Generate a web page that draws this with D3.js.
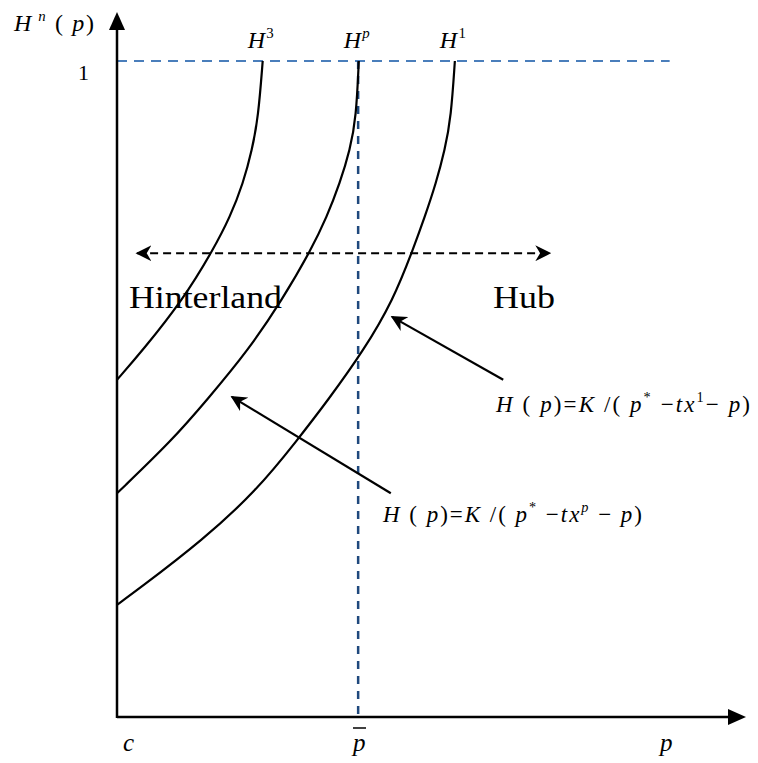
<!DOCTYPE html>
<html>
<head>
<meta charset="utf-8">
<script src="https://cdn.jsdelivr.net/npm/d3@7"></script>
<style>
  body { margin: 0; background: #fff; }
</style>
</head>
<body>
<div id="chart"></div>
<script>
const curveH3 = [[0, 0.514], [4.1, 0.559], [10.5, 0.636], [15.3, 0.712], [18.0, 0.762],
                 [20.1, 0.814], [21.5, 0.864], [22.5, 0.915], [23.2, 1]];
const curveHp = [[0, 0.341], [8.8, 0.422], [14.3, 0.483], [20.9, 0.559], [26.3, 0.636],
                 [30.9, 0.712], [33.4, 0.762], [35.5, 0.814], [37.1, 0.864], [38.1, 0.915], [38.5, 1]];
const curveH1 = [[0, 0.171], [3.3, 0.194], [13.7, 0.270], [22.3, 0.346], [28.7, 0.422],
                 [33.6, 0.483], [39.3, 0.559], [44.0, 0.636], [47.1, 0.712], [49.0, 0.762],
                 [50.8, 0.814], [52.2, 0.864], [53.2, 0.915], [53.8, 1]];
const curveNames = ['3', 'p', '1'];
const pBar = 38.4;
const topValue = 1;
const regionY = 0.707;
const regionRange = [3.2, 68.9];
const pointerH1 = [[61.5, 0.514], [43.8, 0.610]];
const pointerHp = [[43.6, 0.341], [18.3, 0.488]];

const width = 758, height = 763;
const x0 = 117, y0 = 717;
const serif = '"Liberation Serif", "Times New Roman", Tinos, Times, serif';

const svg = d3.select('#chart').append('svg')
  .attr('width', width).attr('height', height)
  .attr('font-family', serif);

const x = d3.scaleLinear().domain([0, 100]).range([x0, x0 + 628]);
const y = d3.scaleLinear().domain([0, 1]).range([y0, 61]);

// arrow marker
const defs = svg.append('defs');
defs.append('marker').attr('id', 'stealth').attr('viewBox', '0 0 10 10')
  .attr('refX', 9).attr('refY', 5).attr('markerWidth', 16).attr('markerHeight', 16)
  .attr('markerUnits', 'userSpaceOnUse').attr('orient', 'auto-start-reverse')
  .append('path').attr('d', 'M0,0 L10,5 L0,10 L3,5 Z').attr('fill', '#000');

// dashed reference lines
svg.append('line')
  .attr('x1', x(0)).attr('x2', x(88)).attr('y1', y(topValue)).attr('y2', y(topValue))
  .attr('stroke', '#4a7ebb').attr('stroke-width', 2).attr('stroke-dasharray', '10,7');
svg.append('line')
  .attr('x1', x(pBar)).attr('x2', x(pBar)).attr('y1', y(topValue)).attr('y2', y(0))
  .attr('stroke', '#1f497d').attr('stroke-width', 2.5).attr('stroke-dasharray', '8,7');

// curves
const line = d3.line().x(d => x(d[0])).y(d => y(d[1])).curve(d3.curveBasis);
[curveH3, curveHp, curveH1].forEach(c => {
  svg.append('path').attr('d', line(c))
    .attr('fill', 'none').attr('stroke', '#000').attr('stroke-width', 2.2);
});

// axes
svg.append('line').attr('x1', x(0)).attr('y1', y(0) + 1).attr('x2', x(0)).attr('y2', 29)
  .attr('stroke', '#000').attr('stroke-width', 2.5);
svg.append('path').attr('d', `M${x(0)},12 L${x(0) + 8},30 L${x(0) - 8},30 Z`).attr('fill', '#000');
svg.append('line').attr('x1', x(0)).attr('y1', y(0)).attr('x2', 728).attr('y2', y(0))
  .attr('stroke', '#000').attr('stroke-width', 2.5);
svg.append('path').attr('d', `M746,${y(0)} L728,${y(0) - 8} L728,${y(0) + 8} Z`).attr('fill', '#000');

// region double arrow
svg.append('line')
  .attr('x1', x(regionRange[0])).attr('x2', x(regionRange[1]))
  .attr('y1', y(regionY)).attr('y2', y(regionY))
  .attr('stroke', '#000').attr('stroke-width', 2).attr('stroke-dasharray', '8,5')
  .attr('marker-start', 'url(#stealth)').attr('marker-end', 'url(#stealth)');

// pointer arrows
[pointerH1, pointerHp].forEach(a => {
  svg.append('line')
    .attr('x1', x(a[0][0])).attr('y1', y(a[0][1]))
    .attr('x2', x(a[1][0])).attr('y2', y(a[1][1]))
    .attr('stroke', '#000').attr('stroke-width', 2.2)
    .attr('marker-end', 'url(#stealth)');
});

// math text helper: segments [text, italic, sup]
function mathText(px, py, size, segs, len) {
  const t = svg.append('text').attr('x', px).attr('y', py)
    .attr('font-size', size).attr('font-family', serif)
    .attr('xml:space', 'preserve').style('white-space', 'pre');
  let up = false;
  segs.forEach(s => {
    const sp = t.append('tspan').text(s[0])
      .attr('font-style', s[1] ? 'italic' : 'normal');
    if (s[2] && !up) { sp.attr('dy', -size * 0.42).attr('font-size', size * 0.62); up = true; }
    else if (s[2]) { sp.attr('font-size', size * 0.62); }
    else if (up) { sp.attr('dy', size * 0.42); up = false; }
  });
  if (len) t.attr('textLength', len).attr('lengthAdjust', 'spacing');
  return t;
}

mathText(14, 31, 24, [['H', 1], [' n', 1, 1], [' (', 0], [' p', 1], [')', 0]], 80);
mathText(78, 80, 22, [['1', 0]]);

[curveH3, curveHp, curveH1].forEach((c, i) => {
  const last = c[c.length - 1];
  const isP = curveNames[i] === 'p';
  mathText(x(last[0]) - 15, 48, 24, [['H', 1], [curveNames[i], isP, 1]], 26);
});

// region labels, sized to the reference width
function wideLabel(px, py, w, str) {
  const t = svg.append('text').attr('x', px).attr('y', py).attr('font-size', 30).text(str);
  const natural = t.node().getComputedTextLength();
  t.attr('font-size', Math.min(32, 30 * w / natural));
  t.attr('textLength', w).attr('lengthAdjust', 'spacingAndGlyphs');
}
wideLabel(129, 308, 153, 'Hinterland');
wideLabel(493, 308, 62, 'Hub');

mathText(496, 412, 23, [['H', 1], [' (', 0], [' p', 1], [')=', 0], ['K', 1], [' /(', 0],
  [' p', 1], ['*', 0, 1], [' −', 0], ['tx', 1], ['1', 0, 1], ['−', 0], [' p', 1], [')', 0]], 254);
mathText(383, 522, 23, [['H', 1], [' (', 0], [' p', 1], [')=', 0], ['K', 1], [' /(', 0],
  [' p', 1], ['*', 0, 1], [' −', 0], ['tx', 1], ['p', 1, 1], [' −', 0], [' p', 1], [')', 0]], 259);

// axis labels
mathText(123, 751, 25, [['c', 1]]);
mathText(353, 751, 25, [['p', 1]]);
svg.append('line').attr('x1', 353).attr('x2', 366).attr('y1', 728).attr('y2', 728)
  .attr('stroke', '#000').attr('stroke-width', 1.5);
mathText(660, 751, 25, [['p', 1]]);
</script>
</body>
</html>
